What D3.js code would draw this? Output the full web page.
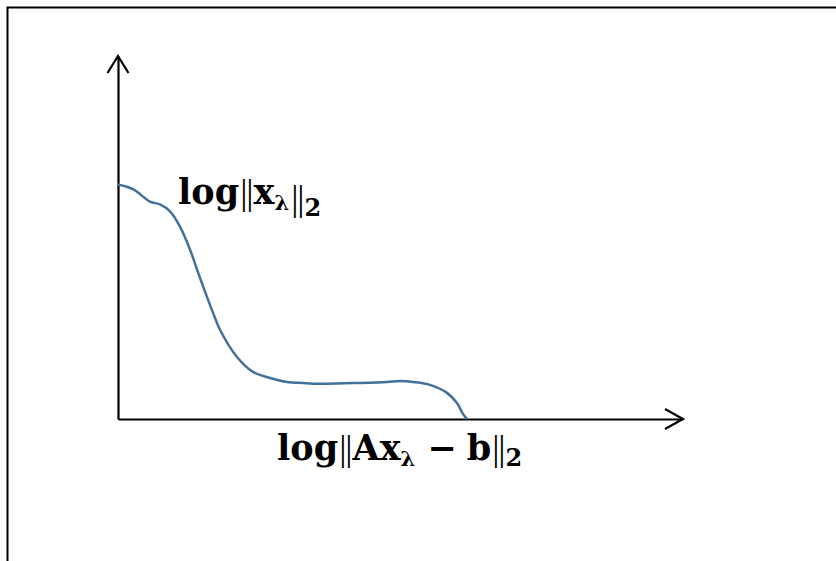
<!DOCTYPE html>
<html>
<head>
<meta charset="utf-8">
<script src="https://cdn.jsdelivr.net/npm/d3@7"></script>
<style>
  html, body { margin: 0; padding: 0; background: #fff; }
  svg { display: block; }
</style>
</head>
<body>
<svg id="chart" width="836" height="561"></svg>
<script>
// Curve samples (relative units: x 0..100 along horizontal axis, y 0..100 along vertical axis)
const curveX = [0, 2.65, 5.66, 7.43, 9.2, 10.97, 12.74, 13.98, 15.4, 16.81, 18.05, 21.06, 23.89, 26.9, 29.91, 32.74, 35.75, 41.59, 47.61, 49.91, 52.21, 55.22, 58.23, 60.0, 61.06, 61.77];
const curveY = [64.6, 63.3, 59.9, 59.1, 57.2, 53.0, 46.7, 41.2, 35.1, 29.3, 24.6, 17.1, 13.0, 11.3, 10.2, 9.9, 9.7, 9.9, 10.2, 10.5, 10.2, 9.4, 7.2, 4.4, 1.4, 0];
const yLabelParts = ["log", "x", "\u03bb", "2"];                 // log‖xλ‖2
const xLabelParts = ["log", "Ax", "\u03bb", "\u2212", "b", "2"]; // log‖Axλ − b‖2

const svg = d3.select("#chart");
const x = d3.scaleLinear().domain([0, 100]).range([118, 683]);
const y = d3.scaleLinear().domain([0, 100]).range([419, 56]);

// frame
svg.append("path")
  .attr("d", "M7.5,561 L7.5,7.5 L836,7.5")
  .attr("fill", "none").attr("stroke", "#000").attr("stroke-width", 2);

// axes (no ticks)
svg.append("g").attr("transform", `translate(0,${y(0)})`)
  .call(d3.axisBottom(x).tickValues([]).tickSizeOuter(0));
svg.append("g").attr("transform", `translate(${x(0)},0)`)
  .call(d3.axisLeft(y).tickValues([]).tickSizeOuter(0));
svg.selectAll(".domain").attr("stroke", "#000").attr("stroke-width", 2.2);

// arrowheads
const xEnd = x(100), yEnd = y(100);
svg.append("path")
  .attr("d", `M${xEnd - 18},${y(0) - 10} L${xEnd},${y(0)} L${xEnd - 18},${y(0) + 10}`)
  .attr("fill", "none").attr("stroke", "#000").attr("stroke-width", 2.2);
svg.append("path")
  .attr("d", `M${x(0) - 10.5},${yEnd + 17} L${x(0)},${yEnd} L${x(0) + 10.5},${yEnd + 17}`)
  .attr("fill", "none").attr("stroke", "#000").attr("stroke-width", 2.2);

// curve
const pts = curveX.map((d, i) => [d, curveY[i]]);
svg.append("path")
  .datum(pts)
  .attr("d", d3.line().x(d => x(d[0])).y(d => y(d[1])).curve(d3.curveCatmullRom.alpha(0.5)))
  .attr("fill", "none").attr("stroke", "#41719c").attr("stroke-width", 2.5);

// labels
const font = "'DejaVu Serif', 'Liberation Serif', serif";
function bars(t, dx) {
  t.append("tspan").attr("font-family", "'Liberation Serif', serif").attr("font-weight", "normal")
    .attr("font-size", 36).attr("letter-spacing", -1).attr("dx", dx).text("||");
}
const t1 = svg.append("text").attr("x", 178).attr("y", 204)
  .attr("font-family", font).attr("font-weight", "bold").attr("font-size", 35).attr("fill", "#000");
t1.append("tspan").text(yLabelParts[0]);
bars(t1, 1);
t1.append("tspan").attr("dx", 1).text(yLabelParts[1]);
t1.append("tspan").attr("font-size", 21).attr("dy", 6).text(yLabelParts[2]);
t1.append("tspan").attr("dy", -6).text("");
bars(t1, 2);
t1.append("tspan").attr("font-size", 24).attr("dy", 6).attr("dx", 1).text(yLabelParts[3]);

const t2 = svg.append("text").attr("x", 277).attr("y", 460)
  .attr("font-family", font).attr("font-weight", "bold").attr("font-size", 35).attr("fill", "#000");
t2.append("tspan").text(xLabelParts[0]);
bars(t2, 1);
t2.append("tspan").attr("dx", 1).text(xLabelParts[1]);
t2.append("tspan").attr("font-size", 21).attr("dy", 6).text(xLabelParts[2]);
t2.append("tspan").attr("dy", -6).attr("dx", 12).text(xLabelParts[3]);
t2.append("tspan").attr("dx", 10).text(xLabelParts[4]);
bars(t2, 1);
t2.append("tspan").attr("font-size", 24).attr("dy", 6).attr("dx", 1).text(xLabelParts[5]);
</script>
</body>
</html>
